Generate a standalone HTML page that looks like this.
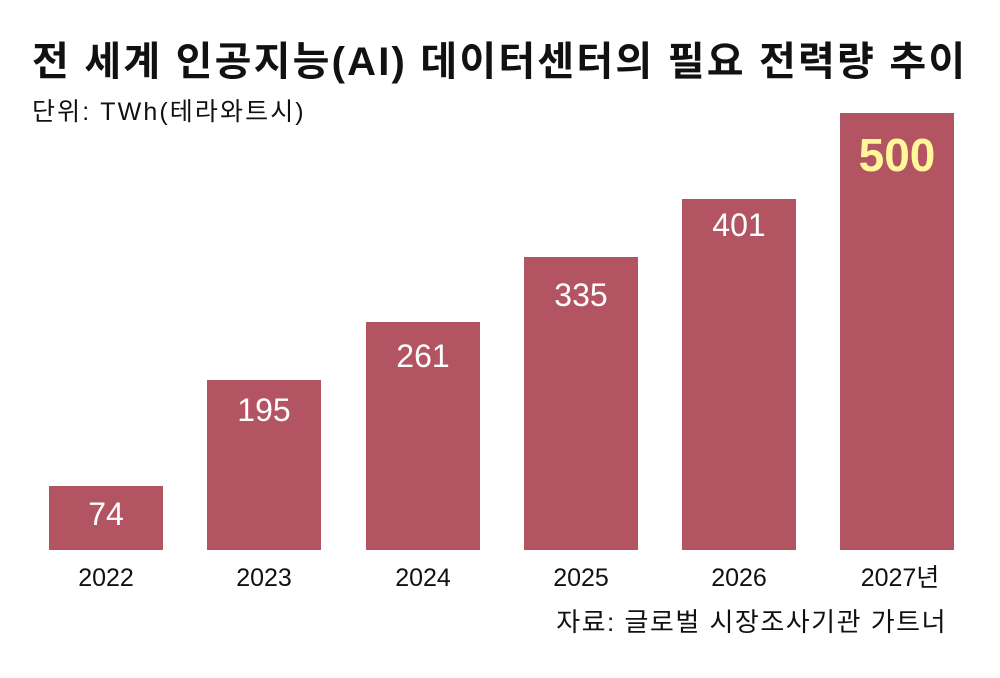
<!DOCTYPE html><html><head><meta charset="utf-8"><style>
body{margin:0;width:1000px;height:678px;background:#fff;position:relative;overflow:hidden;font-family:"Liberation Sans","Noto Sans CJK KR",sans-serif;color:#111}
.t{position:absolute;white-space:nowrap;line-height:1.2}
.b{position:absolute;background:#b35462;bottom:128px;width:114px}
.v{position:absolute;width:114px;text-align:center;color:#fff;font-size:32px;line-height:36px}
.y{position:absolute;width:114px;text-align:center;font-size:25px;top:563px;line-height:30px;white-space:nowrap}
</style></head><body>
<div class="t" style="left:32px;top:38px;font-size:40px;font-weight:bold;letter-spacing:2.2px">전 세계 인공지능(AI) 데이터센터의 필요 전력량 추이</div>
<div class="t" style="left:32px;top:97px;font-size:25px;letter-spacing:2.1px">단위: TWh(테라와트시)</div>
<div class="b" style="left:49px;top:486px"></div>
<div class="b" style="left:207px;top:380px"></div>
<div class="b" style="left:366px;top:322px"></div>
<div class="b" style="left:524px;top:257px"></div>
<div class="b" style="left:682px;top:199px"></div>
<div class="b" style="left:840px;top:113px"></div>
<div class="v" style="left:49px;top:496px">74</div>
<div class="v" style="left:207px;top:392px">195</div>
<div class="v" style="left:366px;top:338px">261</div>
<div class="v" style="left:524px;top:277px">335</div>
<div class="v" style="left:682px;top:207px">401</div>
<div class="v" style="left:840px;top:130px;font-size:46px;line-height:50px;font-weight:bold;color:#fff799">500</div>
<div class="y" style="left:49px">2022</div>
<div class="y" style="left:207px">2023</div>
<div class="y" style="left:366px">2024</div>
<div class="y" style="left:524px">2025</div>
<div class="y" style="left:682px">2026</div>
<div class="y" style="left:843px">2027년</div>
<div class="t" style="right:53px;top:607px;font-size:26px;letter-spacing:1.5px">자료: 글로벌 시장조사기관 가트너</div>
</body></html>
